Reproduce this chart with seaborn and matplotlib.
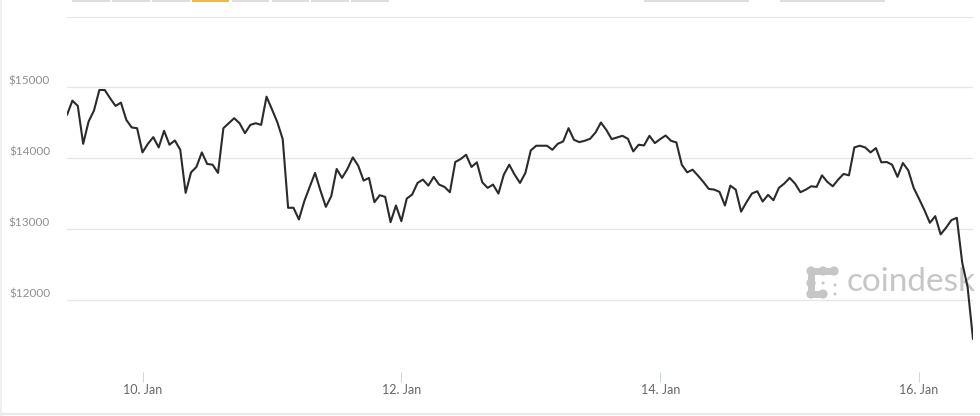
import pandas as pd
import matplotlib
matplotlib.use('Agg')
import matplotlib.pyplot as plt
import matplotlib.dates as mdates
from matplotlib.transforms import ScaledTranslation
from matplotlib.patches import Rectangle, Circle
import seaborn as sns

# hourly BTC price (USD), 9 Jan 10:00 -> 16 Jan 10:00, 2018
start = '2018-01-09 10:00'
prices_a = [14607, 14808, 14734, 14200, 14513, 14668, 14958, 14958, 14841, 14734,
            14780, 14537, 14430, 14420, 14079, 14200, 14294, 14149, 14383, 14187,
            14247, 14116, 13509, 13798, 13874, 14079, 13916, 13906, 13790, 14420,
            14490, 14561, 14490, 14350, 14467, 14490, 14467, 14864, 14687, 14505,
            14266, 13299]
prices_b = [13299, 13135, 13391, 13593, 13790, 13541, 13312, 13462, 13846, 13720,
            13846, 14009, 13892, 13682, 13720, 13378, 13476, 13453, 13097, 13331,
            13111, 13429, 13485, 13649, 13696, 13611, 13734, 13626, 13593, 13518,
            13944, 13986, 14046, 13874, 13939, 13658, 13579, 13626, 13499, 13766,
            13906, 13766]
prices_c = [13649, 13790, 14107, 14173, 14173, 14173, 14116, 14200, 14233, 14420,
            14257, 14224, 14243, 14271, 14359, 14500, 14397, 14266, 14289, 14313,
            14271, 14093, 14187, 14177, 14313, 14210, 14266, 14317, 14243, 14219,
            13906, 13798, 13836, 13752, 13663, 13565, 13555, 13523, 13331, 13611,
            13555, 13245]
prices_d = [13378, 13499, 13532, 13387, 13481, 13406, 13579, 13640, 13720, 13640,
            13518, 13555, 13602, 13593, 13756, 13663, 13602, 13696, 13776, 13756,
            14149, 14173, 14149, 14079, 14140, 13939, 13944, 13906, 13734, 13930,
            13826, 13579, 13425, 13265, 13088, 13181, 12924, 13018, 13125, 13158,
            12527, 12180, 11450]

y_ticks = [12000, 13000, 14000, 15000]
y_labels = ['$12000', '$13000', '$14000', '$15000']
x_ticks = ['2018-01-10', '2018-01-12', '2018-01-14', '2018-01-16']
x_labels = ['10. Jan', '12. Jan', '14. Jan', '16. Jan']

price = prices_a + prices_b + prices_c + prices_d
df = pd.DataFrame({'time': pd.date_range(start, periods=len(price), freq='h'),
                   'price': price})

sns.set_theme(style='white')
plt.rcParams['font.family'] = ['Lato', 'DejaVu Sans']

W, H = 980, 416
fig = plt.figure(figsize=(W / 100, H / 100), dpi=100)

# page decoration layer, pixel coordinates
bg = fig.add_axes([0, 0, 1, 1], zorder=0)
bg.set_xlim(0, W)
bg.set_ylim(H, 0)
bg.axis('off')
for x0, x1 in [(72, 110), (112, 150), (152, 190), (232, 269), (272, 309),
               (311, 349), (351, 389), (644, 749), (780, 885)]:
    bg.add_patch(Rectangle((x0, 0), x1 - x0, 2, color='#dedede', lw=0))
bg.add_patch(Rectangle((192, 0), 37, 2, color='#f6b93b', lw=0))
bg.plot([67, 973], [16.5, 16.5], color='#e6e6e6', lw=0.8)
bg.plot([0, W], [414, 414], color='#e8e8e8', lw=1.6)
bg.plot([0.8, 0.8], [0, H], color='#ececec', lw=1.2)

# coindesk watermark
wm = '#c6c6c6'
bg.plot([811, 834], [271, 271], color=wm, lw=5, solid_capstyle='round')
bg.plot([811, 811], [271, 294], color=wm, lw=5, solid_capstyle='round')
bg.plot([811, 823], [294, 294], color=wm, lw=5, solid_capstyle='round')
for cx, cy in [(811, 271), (823, 271), (834, 271), (811, 283), (811, 294), (823, 294)]:
    bg.add_patch(Circle((cx, cy), 4.6, color=wm, lw=0))
for cx, cy in [(823, 283), (835, 285), (835, 294)]:
    bg.add_patch(Circle((cx, cy), 1.5, color=wm, lw=0))
bg.text(847, 282, 'coindesk', fontsize=24, color=wm, va='center', ha='left')

# chart
ax = fig.add_axes([67 / W, 1 - 372 / H, 906 / W, 352 / H], zorder=1)
ax.patch.set_alpha(0)
sns.lineplot(data=df, x='time', y='price', ax=ax, color='#2b2b2b', linewidth=1.5)
ax.set_xlim(df['time'].iloc[0], df['time'].iloc[-1])
ax.set_ylim(10986, 15944)
for s in ax.spines.values():
    s.set_visible(False)
ax.set_xlabel('')
ax.set_ylabel('')

ax.set_yticks(y_ticks, y_labels)
ax.yaxis.grid(True, color='#e6e6e6', lw=0.9)
ax.xaxis.grid(False)
ax.tick_params(axis='y', length=0, pad=12.2, labelsize=8.5, labelcolor='#8f8f8f')
for lbl in ax.get_yticklabels():
    lbl.set_transform(lbl.get_transform() + ScaledTranslation(0, 0.07, fig.dpi_scale_trans))

ax.set_xticks(mdates.date2num(pd.to_datetime(x_ticks)), x_labels)
ax.tick_params(axis='x', bottom=True, direction='out', length=7.2, width=0.75,
               color='#ccd6eb', pad=1.5, labelsize=9, labelcolor='#666666')

fig.savefig('out.png', dpi=100)
